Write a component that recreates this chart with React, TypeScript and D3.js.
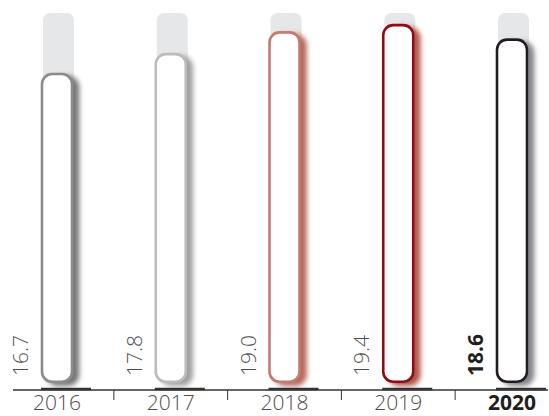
import React from "react";
import * as d3 from "d3";

const years = ["2016", "2017", "2018", "2019", "2020"];
const values = [16.7, 17.8, 19.0, 19.4, 18.6];
const strokeColors = ["#8c8c8c", "#bcbcbc", "#c27b6f", "#8b0a12", "#231f20"];
const shadowColors = ["#777777", "#a0a0a0", "#b5695c", "#b0544b", "#83838a"];
const highlightYear = "2020";
const maxValue = 20;

const W = 549;
const H = 416;

export default function App() {
  const x = d3.scalePoint<string>().domain(years).range([57, 512]);
  const y = d3.scaleLinear().domain([0, maxValue]).range([375, 13]);
  const base = y(0) + 8;
  const axisY = 390;
  const barW = 30;
  const step = x.step();
  const font = "'Open Sans', 'Noto Sans', sans-serif";

  return (
    <svg
      width={W}
      height={H}
      style={{ position: "absolute", left: 0, top: 0, background: "#fff" }}
    >
      <defs>
        {years.map((yr, i) => (
          <filter key={yr} id={`sh${i}`} x="-50%" y="-10%" width="200%" height="120%">
            <feDropShadow
              dx={6}
              dy={3}
              stdDeviation={2.4}
              floodColor={shadowColors[i]}
              floodOpacity={1}
            />
          </filter>
        ))}
      </defs>
      {years.map((yr, i) => {
        const cx = x(yr)!;
        const v = values[i];
        const bold = yr === highlightYear;
        return (
          <g key={yr}>
            <rect
              x={cx - barW / 2 + 1}
              y={y(maxValue)}
              width={barW + 1}
              height={base - y(maxValue)}
              rx={7}
              fill="#e6e7e8"
            />
            <rect
              x={cx - barW / 2}
              y={y(v) + 1.3}
              width={barW}
              height={base - y(v) - 2.6}
              rx={10}
              fill="#fff"
              stroke={strokeColors[i]}
              strokeWidth={2.6}
              filter={`url(#sh${i})`}
            />
            <text
              transform={`translate(${cx - 29},${376}) rotate(-90)`}
              fontFamily={font}
              fontSize={21}
              fontWeight={bold ? 700 : 300}
              fill={bold ? "#231f20" : "#4d4d4d"}
            >
              {v.toFixed(1)}
            </text>
            <text
              x={cx}
              y={410}
              textAnchor="middle"
              fontFamily={font}
              fontSize={21}
              fontWeight={bold ? 700 : 300}
              fill={bold ? "#231f20" : "#4d4d4d"}
            >
              {yr}
            </text>
            <line
              x1={cx - barW / 2 - 1}
              x2={cx - barW / 2 + 49}
              y1={axisY - 1}
              y2={axisY - 1}
              stroke="#333"
              strokeWidth={2.5}
            />
          </g>
        );
      })}
      <line x1={13} x2={548} y1={axisY} y2={axisY} stroke="#333" strokeWidth={1.5} />
      {years.slice(1).map((yr) => {
        const tx = x(yr)! - step / 2;
        return (
          <line key={yr} x1={tx} x2={tx} y1={axisY} y2={axisY + 10} stroke="#333" strokeWidth={1} />
        );
      })}
    </svg>
  );
}
